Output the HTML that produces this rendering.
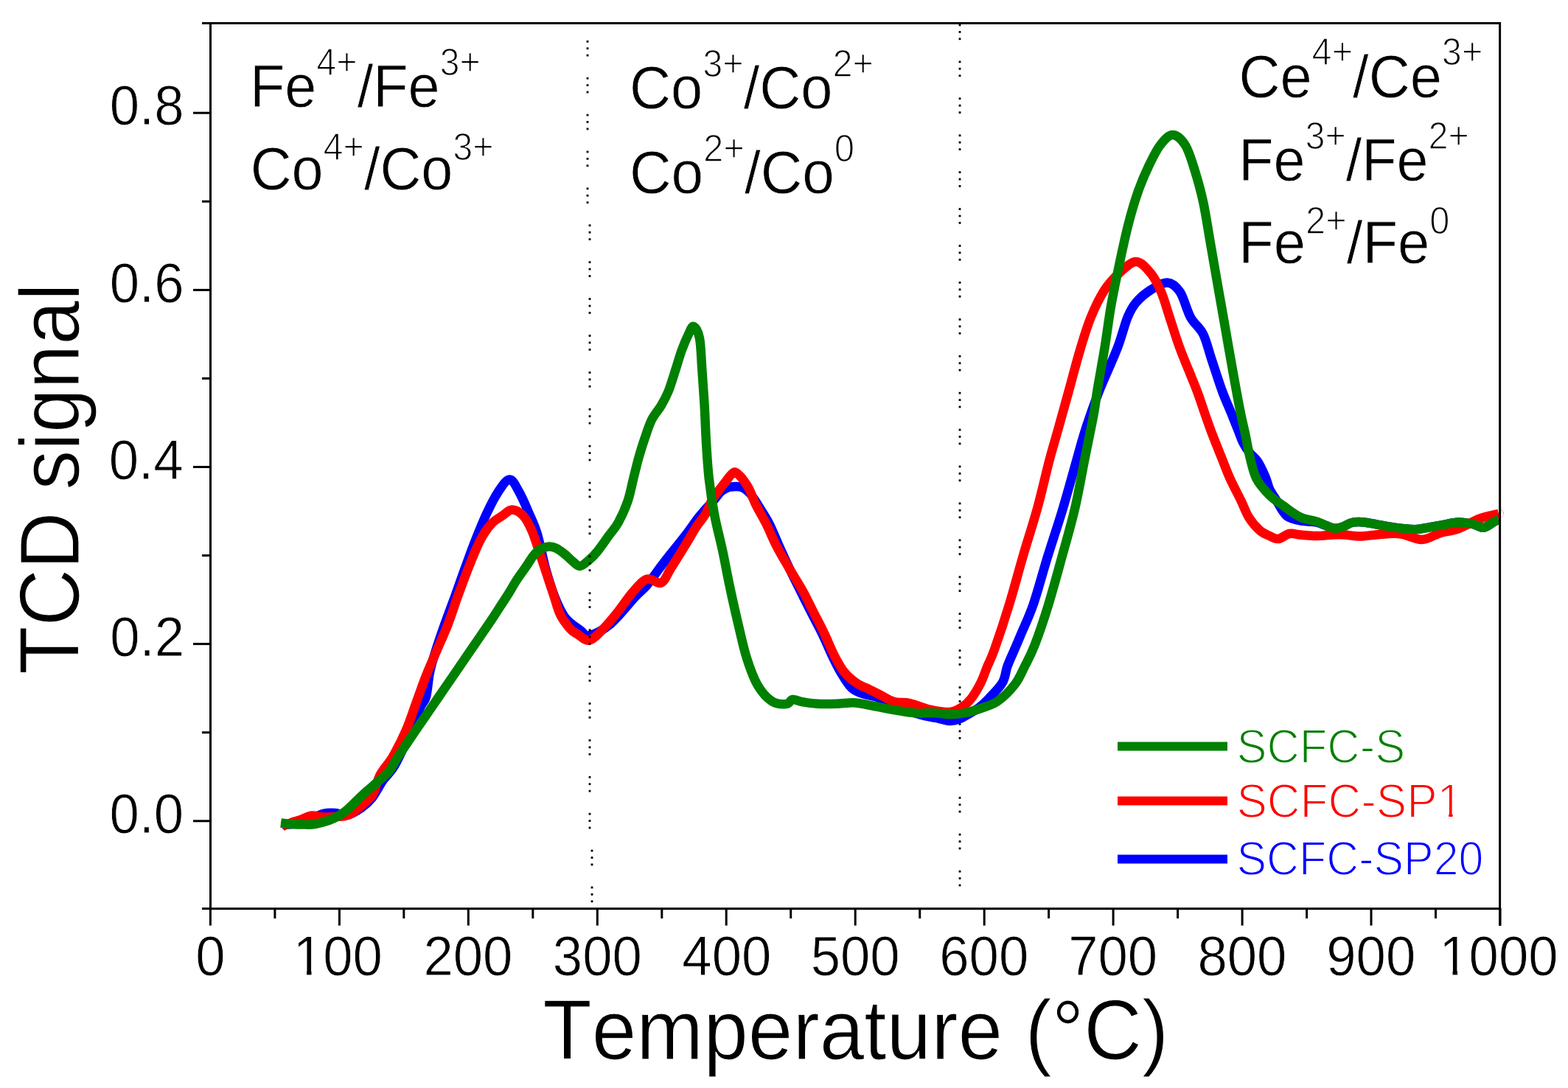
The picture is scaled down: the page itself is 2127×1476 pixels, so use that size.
<!DOCTYPE html>
<html><head><meta charset="utf-8"><title>TCD signal vs Temperature</title>
<style>html,body{margin:0;padding:0;background:#fff;overflow:hidden;}svg{display:block;}text{font-family:"Liberation Sans", Arial, sans-serif;font-kerning:none;font-feature-settings:"kern" 0;}</style></head><body>
<svg width="2127" height="1476" viewBox="0 0 2127 1476">
<rect width="2127" height="1476" fill="#fff"/>
<path d="M383.0,1119.0 C385.8,1118.8 393.8,1118.8 400.0,1117.5 C406.2,1116.2 413.3,1113.3 420.0,1111.0 C426.7,1108.7 434.2,1104.8 440.0,1103.5 C445.8,1102.2 450.0,1102.6 455.0,1103.0 C460.0,1103.4 464.2,1107.2 470.0,1106.0 C475.8,1104.8 484.2,1100.0 490.0,1096.0 C495.8,1092.0 500.0,1088.3 505.0,1082.0 C510.0,1075.7 514.9,1065.2 520.0,1058.0 C525.1,1050.8 529.4,1049.0 535.4,1038.5 C541.4,1028.0 550.2,1008.1 556.0,995.0 C561.8,981.9 566.4,968.2 570.0,960.0 C573.6,951.8 575.7,953.7 577.9,945.7 C580.1,937.7 580.8,922.5 583.0,912.0 C585.2,901.5 587.7,893.7 591.0,883.0 C594.3,872.3 598.7,859.8 603.0,847.6 C607.3,835.4 612.4,822.4 617.0,809.7 C621.6,797.1 625.9,784.4 630.5,771.7 C635.1,759.1 639.6,746.4 644.6,733.8 C649.6,721.2 655.3,707.0 660.5,695.9 C665.7,684.8 670.6,675.0 675.7,667.4 C680.8,659.8 686.5,650.5 691.3,650.5 C696.0,650.5 699.9,659.8 704.2,667.4 C708.6,675.0 713.3,686.4 717.4,695.9 C721.5,705.4 725.0,711.7 728.8,724.3 C732.6,736.9 736.2,757.5 740.2,771.7 C744.2,785.9 748.1,798.6 752.5,809.7 C756.9,820.8 760.9,830.5 766.8,838.1 C772.6,845.7 782.1,851.2 787.6,855.2 C793.1,859.2 792.6,863.7 799.5,862.1 C806.4,860.5 818.5,854.6 828.8,845.9 C839.1,837.2 853.2,818.8 861.3,810.1 C869.4,801.4 871.5,801.0 877.5,793.9 C883.5,786.8 891.6,774.9 897.0,767.8 C902.4,760.6 904.5,758.0 910.0,751.0 C915.5,744.0 924.0,733.8 930.0,726.0 C936.0,718.2 941.7,709.7 946.0,704.0 C950.3,698.3 952.3,696.2 956.0,692.0 C959.7,687.8 964.3,683.2 968.0,679.0 C971.7,674.8 975.0,669.8 978.0,667.0 C981.0,664.2 983.7,663.1 986.0,662.0 C988.3,660.9 990.0,660.8 992.0,660.5 C994.0,660.2 996.0,660.0 998.0,660.0 C1000.0,660.0 1002.0,660.0 1004.0,660.5 C1006.0,661.0 1007.8,661.6 1010.0,663.0 C1012.2,664.4 1014.8,666.7 1017.0,669.0 C1019.2,671.3 1020.8,673.8 1023.0,677.0 C1025.2,680.2 1026.6,682.4 1030.0,688.0 C1033.4,693.6 1039.0,701.7 1043.5,710.5 C1048.0,719.3 1052.4,730.8 1057.0,741.0 C1061.6,751.2 1066.2,761.3 1071.0,771.5 C1075.8,781.7 1081.2,792.2 1086.0,802.0 C1090.8,811.8 1095.2,820.5 1100.0,830.0 C1104.8,839.5 1110.3,849.4 1115.1,859.3 C1119.9,869.1 1124.3,880.1 1128.6,889.1 C1132.9,898.1 1136.6,905.7 1141.0,913.0 C1145.4,920.3 1150.2,928.3 1155.0,933.0 C1159.8,937.7 1164.2,938.8 1170.0,941.0 C1175.8,943.2 1185.0,944.3 1190.0,946.0 C1195.0,947.7 1194.2,948.3 1200.0,951.0 C1205.8,953.7 1216.7,958.8 1225.0,962.0 C1233.3,965.2 1242.5,968.0 1250.0,970.0 C1257.5,972.0 1263.7,972.7 1270.0,974.0 C1276.3,975.3 1283.0,977.7 1288.0,978.0 C1293.0,978.3 1295.5,977.7 1300.0,976.0 C1304.5,974.3 1310.3,970.7 1315.0,968.0 C1319.7,965.3 1323.6,963.4 1328.0,960.0 C1332.4,956.6 1336.2,953.2 1341.5,947.5 C1346.8,941.8 1355.8,933.1 1359.9,925.9 C1364.1,918.7 1363.8,911.4 1366.4,904.2 C1369.0,897.0 1372.5,889.7 1375.6,882.5 C1378.7,875.3 1380.5,871.2 1384.8,860.8 C1389.1,850.4 1395.5,837.9 1401.6,820.3 C1407.6,802.7 1414.4,776.9 1421.1,755.2 C1427.8,733.5 1435.2,711.9 1441.7,690.2 C1448.2,668.5 1455.0,643.3 1460.2,625.1 C1465.4,606.9 1467.8,596.9 1473.0,581.0 C1478.2,565.1 1484.1,548.0 1491.2,530.0 C1498.3,512.0 1509.0,489.7 1515.4,473.1 C1521.8,456.5 1525.3,440.8 1529.6,430.4 C1533.9,420.0 1535.8,416.7 1541.0,410.5 C1546.2,404.3 1553.8,397.9 1560.9,393.4 C1568.0,388.9 1577.1,383.0 1583.7,383.5 C1590.3,384.0 1595.6,388.5 1600.8,396.3 C1606.0,404.1 1609.8,420.9 1615.0,430.4 C1620.2,439.9 1627.3,443.7 1632.1,453.2 C1636.8,462.7 1639.2,474.6 1643.5,487.4 C1647.8,500.2 1653.3,517.9 1657.7,530.0 C1662.1,542.1 1666.3,550.8 1670.0,560.0 C1673.7,569.2 1677.3,578.3 1680.0,585.0 C1682.7,591.7 1683.5,595.2 1686.0,600.0 C1688.5,604.8 1691.7,609.7 1695.0,614.0 C1698.3,618.3 1702.4,620.5 1706.0,626.0 C1709.6,631.5 1713.7,640.5 1716.4,646.7 C1719.1,652.9 1719.6,657.8 1722.0,663.0 C1724.4,668.2 1727.1,671.8 1731.0,678.0 C1734.9,684.2 1739.4,695.2 1745.6,700.0 C1751.8,704.8 1761.2,705.6 1768.0,707.0 C1774.8,708.4 1779.5,707.0 1786.3,708.6 C1793.1,710.2 1803.0,715.4 1808.7,716.5 C1814.4,717.6 1816.4,716.2 1820.6,715.0 C1824.8,713.8 1829.2,710.1 1834.0,709.0 C1838.8,707.9 1843.8,707.9 1849.7,708.4 C1855.6,708.9 1862.9,710.6 1869.5,711.8 C1876.1,712.9 1881.0,714.2 1889.2,715.3 C1897.4,716.4 1910.6,718.2 1918.8,718.2 C1927.0,718.2 1932.0,716.4 1938.6,715.3 C1945.2,714.2 1951.7,712.9 1958.3,711.8 C1964.9,710.6 1971.5,708.6 1978.1,708.4 C1984.7,708.2 1992.0,709.6 1997.8,710.8 C2003.5,712.0 2007.7,716.4 2012.6,715.8 C2017.5,715.2 2024.0,709.1 2027.4,707.4 C2030.8,705.7 2032.1,705.8 2033.0,705.5" fill="none" stroke="#0000ff" stroke-width="12.5" stroke-linejoin="round" stroke-linecap="butt"/>
<path d="M383.0,1121.0 C385.0,1120.2 390.9,1117.5 395.0,1116.0 C399.1,1114.5 403.0,1113.8 407.6,1112.2 C412.2,1110.6 417.7,1107.1 422.7,1106.5 C427.7,1105.9 432.8,1108.2 437.7,1108.5 C442.6,1108.8 447.0,1108.2 452.0,1108.0 C457.0,1107.8 463.5,1107.8 467.8,1107.0 C472.1,1106.2 474.2,1105.3 478.0,1103.0 C481.8,1100.7 485.8,1097.2 490.4,1093.0 C495.0,1088.8 501.1,1085.0 505.4,1078.0 C509.6,1071.0 511.3,1059.3 515.9,1050.7 C520.5,1042.1 527.0,1036.5 532.9,1026.3 C538.8,1016.1 545.9,1002.0 551.2,989.8 C556.5,977.6 560.1,965.4 564.6,953.2 C569.1,941.0 573.3,928.5 578.0,916.6 C582.7,904.7 587.8,893.5 592.7,882.0 C597.6,870.5 602.7,859.6 607.4,847.6 C612.1,835.6 616.1,822.4 620.7,809.7 C625.3,797.1 629.9,784.4 634.9,771.7 C639.9,759.1 645.8,743.9 651.0,733.8 C656.2,723.7 661.1,716.7 666.2,711.0 C671.3,705.3 676.6,703.0 681.4,699.7 C686.1,696.5 690.0,691.5 694.7,691.5 C699.4,691.5 705.3,695.0 709.8,699.7 C714.3,704.5 717.9,711.9 721.5,720.0 C725.1,728.1 728.2,739.0 731.5,748.5 C734.8,758.0 737.8,767.4 741.0,776.9 C744.2,786.4 747.3,795.9 750.5,805.4 C753.7,814.9 756.2,825.9 760.0,833.8 C763.8,841.7 769.5,848.4 773.3,852.8 C777.1,857.2 778.4,857.4 782.8,860.0 C787.2,862.6 793.5,869.9 799.5,868.6 C805.5,867.3 812.5,858.9 819.0,852.4 C825.5,845.9 832.0,837.7 838.5,829.6 C845.0,821.5 851.5,810.9 858.0,803.6 C864.5,796.3 871.0,787.9 877.5,785.7 C884.0,783.5 891.6,793.0 897.0,790.6 C902.4,788.2 904.5,779.7 910.0,771.1 C915.5,762.5 924.2,748.4 930.0,739.0 C935.8,729.6 940.1,721.5 944.6,714.6 C949.1,707.7 953.2,703.7 956.8,697.6 C960.4,691.5 963.0,683.4 966.0,678.0 C969.0,672.6 972.2,669.3 975.0,665.5 C977.8,661.7 980.5,658.2 983.0,655.0 C985.5,651.8 987.8,648.4 990.0,646.0 C992.2,643.6 994.3,640.7 996.5,640.5 C998.7,640.3 1000.9,643.1 1003.0,645.0 C1005.1,646.9 1006.8,648.9 1009.0,652.0 C1011.2,655.1 1013.7,658.6 1016.4,663.9 C1019.1,669.2 1021.2,676.2 1025.0,684.0 C1028.8,691.8 1034.5,701.0 1039.3,710.5 C1044.0,720.0 1048.2,730.8 1053.5,741.0 C1058.8,751.2 1064.9,761.3 1070.8,771.5 C1076.7,781.7 1083.7,792.2 1089.1,802.0 C1094.5,811.8 1098.5,820.5 1103.3,830.0 C1108.1,839.5 1113.4,849.4 1118.1,859.3 C1122.8,869.1 1127.1,880.4 1131.6,889.1 C1136.1,897.8 1140.0,905.3 1145.0,911.5 C1150.0,917.7 1155.7,922.4 1161.4,926.4 C1167.1,930.4 1173.8,932.6 1179.3,935.3 C1184.8,938.0 1188.7,940.0 1194.2,942.8 C1199.7,945.6 1205.8,950.0 1212.5,951.9 C1219.2,953.8 1226.1,952.2 1234.2,954.0 C1242.3,955.8 1252.3,960.7 1261.3,962.7 C1270.3,964.7 1281.2,966.5 1288.4,966.0 C1295.6,965.5 1299.7,962.6 1304.6,959.5 C1309.5,956.4 1313.3,953.1 1317.6,947.5 C1321.9,941.9 1327.0,933.1 1330.6,925.9 C1334.2,918.7 1336.2,911.7 1339.3,904.2 C1342.4,896.7 1344.0,895.0 1349.0,881.0 C1354.0,867.0 1362.6,841.3 1369.0,820.3 C1375.4,799.3 1381.2,776.9 1387.5,755.2 C1393.8,733.5 1401.0,711.9 1407.0,690.2 C1413.0,668.5 1418.5,643.4 1423.3,625.1 C1428.1,606.8 1431.6,596.1 1436.0,580.2 C1440.4,564.4 1445.0,547.9 1449.9,530.0 C1454.8,512.1 1460.6,489.7 1465.6,473.1 C1470.6,456.5 1474.3,443.7 1479.8,430.4 C1485.2,417.1 1491.9,403.4 1498.3,393.4 C1504.7,383.4 1511.1,377.0 1518.2,370.6 C1525.3,364.2 1533.9,355.0 1541.0,355.0 C1548.1,355.0 1555.2,363.7 1560.9,370.6 C1566.6,377.5 1570.9,386.3 1575.2,396.3 C1579.5,406.3 1582.3,417.6 1586.6,430.4 C1590.9,443.2 1594.6,456.5 1600.8,473.1 C1607.0,489.7 1618.1,515.5 1623.6,530.0 C1629.1,544.5 1630.5,550.0 1634.0,560.0 C1637.5,570.0 1640.9,579.9 1644.7,589.8 C1648.5,599.7 1652.6,609.7 1656.6,619.6 C1660.6,629.5 1664.1,639.5 1668.6,649.4 C1673.1,659.3 1679.3,670.6 1683.5,679.3 C1687.7,688.0 1689.7,694.9 1693.9,701.6 C1698.1,708.3 1704.1,715.3 1708.8,719.5 C1713.5,723.7 1718.0,725.1 1722.2,727.0 C1726.4,728.9 1729.7,731.5 1734.2,731.0 C1738.7,730.5 1744.1,724.9 1749.1,724.0 C1754.1,723.1 1757.8,725.0 1764.0,725.5 C1770.2,726.0 1778.8,727.0 1786.3,727.0 C1793.8,727.0 1802.5,725.8 1808.7,725.5 C1814.9,725.2 1817.6,725.1 1823.6,725.5 C1829.6,725.9 1837.1,727.6 1844.8,727.6 C1852.5,727.6 1860.5,725.8 1869.5,725.2 C1878.5,724.6 1889.2,723.1 1899.1,724.2 C1909.0,725.3 1919.7,732.2 1928.7,732.0 C1937.8,731.8 1945.2,725.7 1953.4,723.2 C1961.6,720.8 1969.0,720.6 1978.1,717.3 C1987.1,714.0 1999.0,706.7 2007.7,703.4 C2016.4,700.1 2026.2,698.6 2030.4,697.5 C2034.6,696.4 2032.6,697.1 2033.0,697.0" fill="none" stroke="#ff0000" stroke-width="12.5" stroke-linejoin="round" stroke-linecap="butt"/>
<path d="M381.0,1116.5 C383.3,1116.8 390.2,1117.7 395.0,1118.0 C399.8,1118.3 405.3,1118.4 410.0,1118.5 C414.7,1118.6 418.3,1119.0 423.0,1118.5 C427.7,1118.0 433.0,1116.9 438.0,1115.5 C443.0,1114.1 448.0,1112.4 453.0,1110.0 C458.0,1107.6 462.7,1105.2 468.0,1101.0 C473.3,1096.8 480.0,1089.7 485.0,1085.0 C490.0,1080.3 493.3,1077.2 498.0,1073.0 C502.7,1068.8 508.0,1064.5 513.0,1060.0 C518.0,1055.5 523.5,1051.6 528.0,1046.0 C532.5,1040.4 533.9,1035.8 540.0,1026.5 C546.1,1017.2 557.0,1001.1 564.5,990.0 C572.0,978.9 579.0,969.0 585.2,960.0 C591.4,951.0 596.1,944.0 601.6,936.0 C607.1,928.0 612.6,920.0 618.1,912.0 C623.6,904.0 629.0,896.0 634.5,888.0 C640.0,880.0 645.9,871.5 651.0,864.0 C656.1,856.5 660.9,849.6 665.3,843.0 C669.7,836.4 673.4,830.6 677.5,824.3 C681.6,818.0 685.8,811.7 689.8,805.4 C693.8,799.1 697.1,792.7 701.2,786.4 C705.3,780.1 710.7,772.9 714.5,767.4 C718.3,761.9 720.8,757.0 724.0,753.2 C727.2,749.4 730.0,746.7 733.5,744.7 C737.0,742.8 741.3,741.7 744.8,741.5 C748.3,741.3 750.6,741.9 754.3,743.7 C757.9,745.5 763.1,749.4 766.7,752.2 C770.3,755.1 772.8,758.2 776.1,760.8 C779.4,763.4 782.8,768.2 786.6,768.0 C790.4,767.8 795.0,763.0 798.9,759.8 C802.8,756.5 805.6,753.9 810.0,748.5 C814.4,743.1 820.8,733.7 825.5,727.2 C830.2,720.7 834.2,717.1 838.5,709.3 C842.8,701.4 848.0,690.4 851.5,680.1 C855.0,669.8 857.1,657.4 859.6,647.6 C862.1,637.9 863.8,630.3 866.2,621.6 C868.7,612.9 871.3,604.3 874.3,595.6 C877.3,586.9 880.2,577.1 884.0,569.5 C887.8,561.9 893.2,556.5 897.0,550.0 C900.8,543.5 903.5,538.6 906.8,530.5 C910.0,522.4 913.5,510.5 916.5,501.3 C919.5,492.1 921.7,483.4 924.7,475.3 C927.7,467.2 931.7,457.9 934.4,452.5 C937.1,447.1 938.6,441.9 941.0,443.0 C943.4,444.1 947.1,449.3 949.0,459.0 C950.9,468.7 951.2,486.1 952.3,501.3 C953.4,516.5 954.6,533.5 955.6,550.0 C956.6,566.5 957.0,583.5 958.0,600.0 C959.0,616.5 959.9,632.5 961.7,648.8 C963.5,665.1 966.0,681.4 969.0,697.6 C972.0,713.9 976.5,730.0 980.0,746.3 C983.5,762.5 986.3,778.8 989.8,795.1 C993.2,811.4 996.9,827.6 1000.7,843.9 C1004.6,860.2 1008.4,878.5 1012.9,892.7 C1017.4,906.9 1021.9,919.5 1027.6,929.3 C1033.3,939.0 1040.5,946.9 1047.0,951.2 C1053.5,955.5 1061.9,955.4 1066.6,955.0 C1071.3,954.6 1071.7,949.5 1075.3,949.0 C1078.9,948.5 1082.5,951.1 1088.1,952.1 C1093.7,953.1 1101.0,954.3 1108.7,954.7 C1116.4,955.1 1125.9,954.9 1134.5,954.7 C1143.1,954.5 1152.6,953.0 1160.2,953.4 C1167.8,953.8 1173.1,955.5 1180.0,956.8 C1186.9,958.1 1194.5,959.8 1201.7,961.1 C1208.9,962.5 1216.2,963.8 1223.4,964.9 C1230.6,966.0 1237.8,967.2 1245.0,967.6 C1252.2,968.0 1259.5,966.7 1266.7,967.0 C1273.9,967.3 1281.2,969.2 1288.4,969.2 C1295.6,969.2 1302.8,968.5 1310.0,967.0 C1317.2,965.5 1324.5,963.1 1331.7,960.5 C1338.9,957.9 1345.9,956.7 1353.4,951.3 C1361.0,945.9 1370.9,935.9 1377.0,928.0 C1383.1,920.1 1385.5,912.9 1390.0,904.0 C1394.5,895.1 1398.4,888.5 1403.8,874.5 C1409.2,860.5 1416.1,840.2 1422.2,820.3 C1428.3,800.4 1434.6,776.9 1440.6,755.2 C1446.6,733.5 1452.9,711.9 1458.0,690.2 C1463.1,668.5 1466.7,646.8 1471.0,625.1 C1475.3,603.4 1481.1,575.9 1484.0,560.0 C1486.9,544.1 1486.0,544.5 1488.4,530.0 C1490.8,515.5 1495.2,492.1 1498.3,473.1 C1501.4,454.1 1503.6,435.2 1506.9,416.2 C1510.2,397.2 1514.2,378.3 1518.2,359.3 C1522.2,340.3 1526.8,318.9 1531.1,302.3 C1535.4,285.7 1539.4,272.4 1543.9,259.6 C1548.4,246.8 1553.1,235.9 1558.1,225.5 C1563.1,215.1 1568.3,204.1 1573.8,197.0 C1579.2,189.9 1585.1,183.0 1590.8,183.0 C1596.5,183.0 1602.9,189.0 1607.9,197.0 C1612.9,205.0 1616.7,218.4 1620.7,231.2 C1624.7,244.0 1628.5,257.3 1632.1,273.9 C1635.7,290.5 1638.8,311.8 1642.1,330.8 C1645.4,349.8 1648.7,368.7 1652.0,387.7 C1655.3,406.7 1658.7,425.7 1662.0,444.7 C1665.3,463.7 1668.6,482.6 1672.0,501.6 C1675.4,520.6 1679.6,543.8 1682.5,558.5 C1685.4,573.2 1687.2,579.6 1689.4,589.8 C1691.6,600.0 1692.9,609.7 1695.4,619.6 C1697.9,629.5 1699.9,640.7 1704.4,649.4 C1708.9,658.1 1716.0,665.6 1722.2,671.8 C1728.4,678.0 1734.6,681.7 1741.6,686.7 C1748.6,691.7 1756.5,698.1 1764.0,701.6 C1771.5,705.1 1778.8,705.1 1786.3,707.6 C1793.8,710.1 1803.0,715.3 1808.7,716.5 C1814.4,717.7 1816.4,716.2 1820.6,715.0 C1824.8,713.8 1829.2,710.1 1834.0,709.0 C1838.8,707.9 1843.8,707.9 1849.7,708.4 C1855.6,708.9 1862.9,710.6 1869.5,711.8 C1876.1,712.9 1881.0,714.2 1889.2,715.3 C1897.4,716.4 1910.6,718.2 1918.8,718.2 C1927.0,718.2 1932.0,716.4 1938.6,715.3 C1945.2,714.2 1951.7,712.9 1958.3,711.8 C1964.9,710.6 1971.5,708.6 1978.1,708.4 C1984.7,708.2 1992.0,709.6 1997.8,710.8 C2003.5,712.0 2007.7,716.4 2012.6,715.8 C2017.5,715.2 2024.0,709.1 2027.4,707.4 C2030.8,705.7 2032.1,705.8 2033.0,705.5" fill="none" stroke="#008000" stroke-width="12.5" stroke-linejoin="round" stroke-linecap="butt"/>
<g fill="#000"><rect x="795.6" y="54.9" width="2.8" height="2.8"/><rect x="795.6" y="64.3" width="2.8" height="2.8"/><rect x="795.6" y="73.7" width="2.8" height="2.8"/><rect x="795.6" y="104.8" width="2.8" height="2.8"/><rect x="795.6" y="114.2" width="2.8" height="2.8"/><rect x="795.6" y="123.6" width="2.8" height="2.8"/><rect x="795.6" y="154.7" width="2.8" height="2.8"/><rect x="795.6" y="164.1" width="2.8" height="2.8"/><rect x="795.6" y="173.5" width="2.8" height="2.8"/><rect x="795.6" y="204.6" width="2.8" height="2.8"/><rect x="795.6" y="214.0" width="2.8" height="2.8"/><rect x="795.6" y="223.4" width="2.8" height="2.8"/><rect x="795.6" y="254.5" width="2.8" height="2.8"/><rect x="795.6" y="263.9" width="2.8" height="2.8"/><rect x="795.6" y="273.3" width="2.8" height="2.8"/><rect x="798.6" y="304.4" width="2.8" height="2.8"/><rect x="798.6" y="313.8" width="2.8" height="2.8"/><rect x="798.6" y="323.2" width="2.8" height="2.8"/><rect x="798.6" y="354.3" width="2.8" height="2.8"/><rect x="798.6" y="363.7" width="2.8" height="2.8"/><rect x="798.6" y="373.1" width="2.8" height="2.8"/><rect x="798.6" y="404.2" width="2.8" height="2.8"/><rect x="798.6" y="413.6" width="2.8" height="2.8"/><rect x="798.6" y="423.0" width="2.8" height="2.8"/><rect x="798.6" y="454.1" width="2.8" height="2.8"/><rect x="798.6" y="463.5" width="2.8" height="2.8"/><rect x="798.6" y="472.9" width="2.8" height="2.8"/><rect x="798.6" y="504.0" width="2.8" height="2.8"/><rect x="798.6" y="513.4" width="2.8" height="2.8"/><rect x="798.6" y="522.8" width="2.8" height="2.8"/><rect x="798.6" y="553.9" width="2.8" height="2.8"/><rect x="798.6" y="563.3" width="2.8" height="2.8"/><rect x="798.6" y="572.7" width="2.8" height="2.8"/><rect x="798.6" y="603.8" width="2.8" height="2.8"/><rect x="798.6" y="613.2" width="2.8" height="2.8"/><rect x="798.6" y="622.6" width="2.8" height="2.8"/><rect x="798.6" y="653.7" width="2.8" height="2.8"/><rect x="798.6" y="663.1" width="2.8" height="2.8"/><rect x="798.6" y="672.5" width="2.8" height="2.8"/><rect x="798.6" y="703.6" width="2.8" height="2.8"/><rect x="798.6" y="713.0" width="2.8" height="2.8"/><rect x="798.6" y="722.4" width="2.8" height="2.8"/><rect x="798.6" y="753.5" width="2.8" height="2.8"/><rect x="798.6" y="762.9" width="2.8" height="2.8"/><rect x="798.6" y="772.3" width="2.8" height="2.8"/><rect x="798.6" y="803.4" width="2.8" height="2.8"/><rect x="798.6" y="812.8" width="2.8" height="2.8"/><rect x="798.6" y="822.2" width="2.8" height="2.8"/><rect x="798.6" y="853.3" width="2.8" height="2.8"/><rect x="798.6" y="862.7" width="2.8" height="2.8"/><rect x="798.6" y="872.1" width="2.8" height="2.8"/><rect x="798.6" y="903.2" width="2.8" height="2.8"/><rect x="798.6" y="912.6" width="2.8" height="2.8"/><rect x="798.6" y="922.0" width="2.8" height="2.8"/><rect x="798.6" y="953.1" width="2.8" height="2.8"/><rect x="798.6" y="962.5" width="2.8" height="2.8"/><rect x="798.6" y="971.9" width="2.8" height="2.8"/><rect x="798.6" y="1003.0" width="2.8" height="2.8"/><rect x="798.6" y="1012.4" width="2.8" height="2.8"/><rect x="798.6" y="1021.8" width="2.8" height="2.8"/><rect x="798.6" y="1052.9" width="2.8" height="2.8"/><rect x="798.6" y="1062.3" width="2.8" height="2.8"/><rect x="798.6" y="1071.7" width="2.8" height="2.8"/><rect x="798.6" y="1102.8" width="2.8" height="2.8"/><rect x="798.6" y="1112.2" width="2.8" height="2.8"/><rect x="798.6" y="1121.6" width="2.8" height="2.8"/><rect x="801.6" y="1152.7" width="2.8" height="2.8"/><rect x="801.6" y="1162.1" width="2.8" height="2.8"/><rect x="801.6" y="1171.5" width="2.8" height="2.8"/><rect x="801.6" y="1202.6" width="2.8" height="2.8"/><rect x="801.6" y="1212.0" width="2.8" height="2.8"/><rect x="801.6" y="1221.4" width="2.8" height="2.8"/><rect x="1300.6" y="32.6" width="2.8" height="2.8"/><rect x="1300.6" y="42.0" width="2.8" height="2.8"/><rect x="1300.6" y="51.4" width="2.8" height="2.8"/><rect x="1300.6" y="82.5" width="2.8" height="2.8"/><rect x="1300.6" y="91.9" width="2.8" height="2.8"/><rect x="1300.6" y="101.3" width="2.8" height="2.8"/><rect x="1300.6" y="132.4" width="2.8" height="2.8"/><rect x="1300.6" y="141.8" width="2.8" height="2.8"/><rect x="1300.6" y="151.2" width="2.8" height="2.8"/><rect x="1300.6" y="182.4" width="2.8" height="2.8"/><rect x="1300.6" y="191.8" width="2.8" height="2.8"/><rect x="1300.6" y="201.2" width="2.8" height="2.8"/><rect x="1300.6" y="232.3" width="2.8" height="2.8"/><rect x="1300.6" y="241.7" width="2.8" height="2.8"/><rect x="1300.6" y="251.1" width="2.8" height="2.8"/><rect x="1300.6" y="282.2" width="2.8" height="2.8"/><rect x="1300.6" y="291.6" width="2.8" height="2.8"/><rect x="1300.6" y="301.0" width="2.8" height="2.8"/><rect x="1300.6" y="332.1" width="2.8" height="2.8"/><rect x="1300.6" y="341.5" width="2.8" height="2.8"/><rect x="1300.6" y="350.9" width="2.8" height="2.8"/><rect x="1300.6" y="382.0" width="2.8" height="2.8"/><rect x="1300.6" y="391.4" width="2.8" height="2.8"/><rect x="1300.6" y="400.8" width="2.8" height="2.8"/><rect x="1300.6" y="432.0" width="2.8" height="2.8"/><rect x="1300.6" y="441.4" width="2.8" height="2.8"/><rect x="1300.6" y="450.8" width="2.8" height="2.8"/><rect x="1300.6" y="481.9" width="2.8" height="2.8"/><rect x="1300.6" y="491.3" width="2.8" height="2.8"/><rect x="1300.6" y="500.7" width="2.8" height="2.8"/><rect x="1300.6" y="531.8" width="2.8" height="2.8"/><rect x="1300.6" y="541.2" width="2.8" height="2.8"/><rect x="1300.6" y="550.6" width="2.8" height="2.8"/><rect x="1300.6" y="581.7" width="2.8" height="2.8"/><rect x="1300.6" y="591.1" width="2.8" height="2.8"/><rect x="1300.6" y="600.5" width="2.8" height="2.8"/><rect x="1300.6" y="631.6" width="2.8" height="2.8"/><rect x="1300.6" y="641.0" width="2.8" height="2.8"/><rect x="1300.6" y="650.4" width="2.8" height="2.8"/><rect x="1300.6" y="681.6" width="2.8" height="2.8"/><rect x="1300.6" y="691.0" width="2.8" height="2.8"/><rect x="1300.6" y="700.4" width="2.8" height="2.8"/><rect x="1300.6" y="731.5" width="2.8" height="2.8"/><rect x="1300.6" y="740.9" width="2.8" height="2.8"/><rect x="1300.6" y="750.3" width="2.8" height="2.8"/><rect x="1300.6" y="781.4" width="2.8" height="2.8"/><rect x="1300.6" y="790.8" width="2.8" height="2.8"/><rect x="1300.6" y="800.2" width="2.8" height="2.8"/><rect x="1300.6" y="831.3" width="2.8" height="2.8"/><rect x="1300.6" y="840.7" width="2.8" height="2.8"/><rect x="1300.6" y="850.1" width="2.8" height="2.8"/><rect x="1300.6" y="881.2" width="2.8" height="2.8"/><rect x="1300.6" y="890.6" width="2.8" height="2.8"/><rect x="1300.6" y="900.0" width="2.8" height="2.8"/><rect x="1300.6" y="931.2" width="2.8" height="2.8"/><rect x="1300.6" y="940.6" width="2.8" height="2.8"/><rect x="1300.6" y="950.0" width="2.8" height="2.8"/><rect x="1300.6" y="981.1" width="2.8" height="2.8"/><rect x="1300.6" y="990.5" width="2.8" height="2.8"/><rect x="1300.6" y="999.9" width="2.8" height="2.8"/><rect x="1300.6" y="1031.0" width="2.8" height="2.8"/><rect x="1300.6" y="1040.4" width="2.8" height="2.8"/><rect x="1300.6" y="1049.8" width="2.8" height="2.8"/><rect x="1300.6" y="1080.9" width="2.8" height="2.8"/><rect x="1300.6" y="1090.3" width="2.8" height="2.8"/><rect x="1300.6" y="1099.7" width="2.8" height="2.8"/><rect x="1300.6" y="1130.8" width="2.8" height="2.8"/><rect x="1300.6" y="1140.2" width="2.8" height="2.8"/><rect x="1300.6" y="1149.6" width="2.8" height="2.8"/><rect x="1300.6" y="1180.8" width="2.8" height="2.8"/><rect x="1300.6" y="1190.2" width="2.8" height="2.8"/><rect x="1300.6" y="1199.6" width="2.8" height="2.8"/></g>
<g stroke="#000" stroke-width="3" fill="none"><line x1="285.5" y1="30" x2="285.5" y2="1234" /><line x1="284" y1="1232.7" x2="2036" y2="1232.7" /><line x1="274" y1="31.4" x2="2036" y2="31.4" /><line x1="2034.6" y1="30" x2="2034.6" y2="1256" /><line x1="262" y1="1113.8" x2="285" y2="1113.8" /><line x1="274" y1="993.7" x2="285" y2="993.7" /><line x1="262" y1="873.6" x2="285" y2="873.6" /><line x1="274" y1="753.6" x2="285" y2="753.6" /><line x1="262" y1="633.5" x2="285" y2="633.5" /><line x1="274" y1="513.4" x2="285" y2="513.4" /><line x1="262" y1="393.4" x2="285" y2="393.4" /><line x1="274" y1="273.3" x2="285" y2="273.3" /><line x1="262" y1="153.2" x2="285" y2="153.2" /><line x1="274" y1="1232.7" x2="285" y2="1232.7" /><line x1="285.4" y1="1232" x2="285.4" y2="1255.6" /><line x1="372.9" y1="1232" x2="372.9" y2="1246" /><line x1="460.4" y1="1232" x2="460.4" y2="1255.6" /><line x1="547.8" y1="1232" x2="547.8" y2="1246" /><line x1="635.3" y1="1232" x2="635.3" y2="1255.6" /><line x1="722.8" y1="1232" x2="722.8" y2="1246" /><line x1="810.3" y1="1232" x2="810.3" y2="1255.6" /><line x1="897.8" y1="1232" x2="897.8" y2="1246" /><line x1="985.2" y1="1232" x2="985.2" y2="1255.6" /><line x1="1072.7" y1="1232" x2="1072.7" y2="1246" /><line x1="1160.2" y1="1232" x2="1160.2" y2="1255.6" /><line x1="1247.7" y1="1232" x2="1247.7" y2="1246" /><line x1="1335.2" y1="1232" x2="1335.2" y2="1255.6" /><line x1="1422.6" y1="1232" x2="1422.6" y2="1246" /><line x1="1510.1" y1="1232" x2="1510.1" y2="1255.6" /><line x1="1597.6" y1="1232" x2="1597.6" y2="1246" /><line x1="1685.1" y1="1232" x2="1685.1" y2="1255.6" /><line x1="1772.6" y1="1232" x2="1772.6" y2="1246" /><line x1="1860.0" y1="1232" x2="1860.0" y2="1255.6" /><line x1="1947.5" y1="1232" x2="1947.5" y2="1246" /><line x1="2035.0" y1="1232" x2="2035.0" y2="1255.6" /></g>
<g transform="translate(151.24,1130.00) scale(0.9650,1)"><text x="-2.93" y="0" fill="#000" stroke="#fff" stroke-width="0.85" stroke-linejoin="round"><tspan font-size="75.1">0.0</tspan></text></g>
<g transform="translate(152.06,889.85) scale(0.9650,1)"><text x="-2.93" y="0" fill="#000" stroke="#fff" stroke-width="0.85" stroke-linejoin="round"><tspan font-size="75.1">0.2</tspan></text></g>
<g transform="translate(150.53,649.70) scale(0.9650,1)"><text x="-2.93" y="0" fill="#000" stroke="#fff" stroke-width="0.85" stroke-linejoin="round"><tspan font-size="75.1">0.4</tspan></text></g>
<g transform="translate(151.60,409.55) scale(0.9650,1)"><text x="-2.93" y="0" fill="#000" stroke="#fff" stroke-width="0.85" stroke-linejoin="round"><tspan font-size="75.1">0.6</tspan></text></g>
<g transform="translate(151.56,169.40) scale(0.9650,1)"><text x="-2.93" y="0" fill="#000" stroke="#fff" stroke-width="0.85" stroke-linejoin="round"><tspan font-size="75.1">0.8</tspan></text></g>
<g transform="translate(268.08,1323.40) scale(0.9650,1)"><text x="-2.93" y="0" fill="#000" stroke="#fff" stroke-width="0.85" stroke-linejoin="round"><tspan font-size="75.1">0</tspan></text></g>
<g transform="translate(404.80,1323.40) scale(0.9650,1)"><text x="-7.22" y="0" fill="#000" stroke="#fff" stroke-width="0.85" stroke-linejoin="round"><tspan font-size="75.1">100</tspan></text><g fill="#fff"><rect x="-2.09" y="-6.81" width="13.75" height="8.31"/><rect x="18.30" y="-6.81" width="13.35" height="8.31"/></g></g>
<g transform="translate(578.10,1323.40) scale(0.9650,1)"><text x="-3.78" y="0" fill="#000" stroke="#fff" stroke-width="0.85" stroke-linejoin="round"><tspan font-size="75.1">200</tspan></text></g>
<g transform="translate(752.62,1323.40) scale(0.9650,1)"><text x="-2.86" y="0" fill="#000" stroke="#fff" stroke-width="0.85" stroke-linejoin="round"><tspan font-size="75.1">300</tspan></text></g>
<g transform="translate(927.03,1323.40) scale(0.9650,1)"><text x="-1.72" y="0" fill="#000" stroke="#fff" stroke-width="0.85" stroke-linejoin="round"><tspan font-size="75.1">400</tspan></text></g>
<g transform="translate(1102.61,1323.40) scale(0.9650,1)"><text x="-3.01" y="0" fill="#000" stroke="#fff" stroke-width="0.85" stroke-linejoin="round"><tspan font-size="75.1">500</tspan></text></g>
<g transform="translate(1277.96,1323.40) scale(0.9650,1)"><text x="-3.81" y="0" fill="#000" stroke="#fff" stroke-width="0.85" stroke-linejoin="round"><tspan font-size="75.1">600</tspan></text></g>
<g transform="translate(1452.94,1323.40) scale(0.9650,1)"><text x="-3.85" y="0" fill="#000" stroke="#fff" stroke-width="0.85" stroke-linejoin="round"><tspan font-size="75.1">700</tspan></text></g>
<g transform="translate(1627.61,1323.40) scale(0.9650,1)"><text x="-3.26" y="0" fill="#000" stroke="#fff" stroke-width="0.85" stroke-linejoin="round"><tspan font-size="75.1">800</tspan></text></g>
<g transform="translate(1802.70,1323.40) scale(0.9650,1)"><text x="-3.52" y="0" fill="#000" stroke="#fff" stroke-width="0.85" stroke-linejoin="round"><tspan font-size="75.1">900</tspan></text></g>
<g transform="translate(1959.29,1323.40) scale(0.9650,1)"><text x="-7.22" y="0" fill="#000" stroke="#fff" stroke-width="0.85" stroke-linejoin="round"><tspan font-size="75.1">1000</tspan></text><g fill="#fff"><rect x="-2.09" y="-6.81" width="13.75" height="8.31"/><rect x="18.30" y="-6.81" width="13.35" height="8.31"/></g></g>
<g transform="translate(738.60,1437.10) scale(0.9537,1)"><text x="-2.57" y="0" fill="#000" stroke="#fff" stroke-width="1.2" stroke-linejoin="round"><tspan font-size="114.3">Temperature (°C)</tspan></text></g>
<g transform="translate(106.60,912.60) rotate(-90) scale(0.9367,1)"><text x="-2.57" y="0" fill="#000" stroke="#fff" stroke-width="1.2" stroke-linejoin="round"><tspan font-size="114.6">TCD signal</tspan></text></g>
<g transform="translate(345.22,145.10) scale(0.9493,1)"><text x="-6.69" y="0" fill="#000" stroke="#fff" stroke-width="0.76" stroke-linejoin="round"><tspan font-size="81.6">Fe</tspan><tspan font-size="51.2" dy="-43.6" stroke-width="1.42">4+</tspan><tspan font-size="81.6" dy="43.6">/Fe</tspan><tspan font-size="51.2" dy="-43.6" stroke-width="1.42">3+</tspan></text></g>
<g transform="translate(343.62,257.00) scale(0.9479,1)"><text x="-4.14" y="0" fill="#000" stroke="#fff" stroke-width="0.76" stroke-linejoin="round"><tspan font-size="81.6">Co</tspan><tspan font-size="51.2" dy="-39.9" stroke-width="1.42">4+</tspan><tspan font-size="81.6" dy="39.9">/Co</tspan><tspan font-size="51.2" dy="-39.9" stroke-width="1.42">3+</tspan></text></g>
<g transform="translate(857.92,147.40) scale(0.9511,1)"><text x="-4.14" y="0" fill="#000" stroke="#fff" stroke-width="0.76" stroke-linejoin="round"><tspan font-size="81.6">Co</tspan><tspan font-size="51.2" dy="-43" stroke-width="1.42">3+</tspan><tspan font-size="81.6" dy="43">/Co</tspan><tspan font-size="51.2" dy="-43" stroke-width="1.42">2+</tspan></text></g>
<g transform="translate(857.92,262.40) scale(0.9593,1)"><text x="-4.14" y="0" fill="#000" stroke="#fff" stroke-width="0.76" stroke-linejoin="round"><tspan font-size="81.6">Co</tspan><tspan font-size="51.2" dy="-43.2" stroke-width="1.42">2+</tspan><tspan font-size="81.6" dy="43.2">/Co</tspan><tspan font-size="51.2" dy="-43.2" stroke-width="1.42">0</tspan></text></g>
<g transform="translate(1684.32,131.90) scale(0.9511,1)"><text x="-4.14" y="0" fill="#000" stroke="#fff" stroke-width="0.76" stroke-linejoin="round"><tspan font-size="81.6">Ce</tspan><tspan font-size="51.2" dy="-43.5" stroke-width="1.42">4+</tspan><tspan font-size="81.6" dy="43.5">/Ce</tspan><tspan font-size="51.2" dy="-43.5" stroke-width="1.42">3+</tspan></text></g>
<g transform="translate(1686.52,244.90) scale(0.9483,1)"><text x="-6.69" y="0" fill="#000" stroke="#fff" stroke-width="0.76" stroke-linejoin="round"><tspan font-size="81.6">Fe</tspan><tspan font-size="51.2" dy="-43.3" stroke-width="1.42">3+</tspan><tspan font-size="81.6" dy="43.3">/Fe</tspan><tspan font-size="51.2" dy="-43.3" stroke-width="1.42">2+</tspan></text></g>
<g transform="translate(1686.52,357.30) scale(0.9547,1)"><text x="-6.69" y="0" fill="#000" stroke="#fff" stroke-width="0.76" stroke-linejoin="round"><tspan font-size="81.6">Fe</tspan><tspan font-size="51.2" dy="-40.6" stroke-width="1.42">2+</tspan><tspan font-size="81.6" dy="40.6">/Fe</tspan><tspan font-size="51.2" dy="-40.6" stroke-width="1.42">0</tspan></text></g>
<line x1="1516" y1="1012.5" x2="1665" y2="1012.5" stroke="#008000" stroke-width="12"/>
<g transform="translate(1680.26,1034.60) scale(0.9481,1)"><text x="-2.94" y="0" fill="#008000" stroke="#fff" stroke-width="1.88" stroke-linejoin="round"><tspan font-size="64.8">SCFC-S</tspan></text></g>
<line x1="1516" y1="1086.6" x2="1665" y2="1086.6" stroke="#ff0000" stroke-width="12"/>
<g transform="translate(1680.26,1109.20) scale(0.9568,1)"><text x="-2.94" y="0" fill="#ff0000" stroke="#fff" stroke-width="1.88" stroke-linejoin="round"><tspan font-size="64.8">SCFC-SP1</tspan></text><g fill="#fff"><rect x="285.90" y="-6.04" width="11.87" height="7.54"/><rect x="303.50" y="-6.04" width="11.52" height="7.54"/></g></g>
<line x1="1516" y1="1165.4" x2="1665" y2="1165.4" stroke="#0000ff" stroke-width="12"/>
<g transform="translate(1680.26,1186.70) scale(0.9392,1)"><text x="-2.94" y="0" fill="#0000ff" stroke="#fff" stroke-width="1.88" stroke-linejoin="round"><tspan font-size="64.8">SCFC-SP20</tspan></text></g>
</svg></body></html>
